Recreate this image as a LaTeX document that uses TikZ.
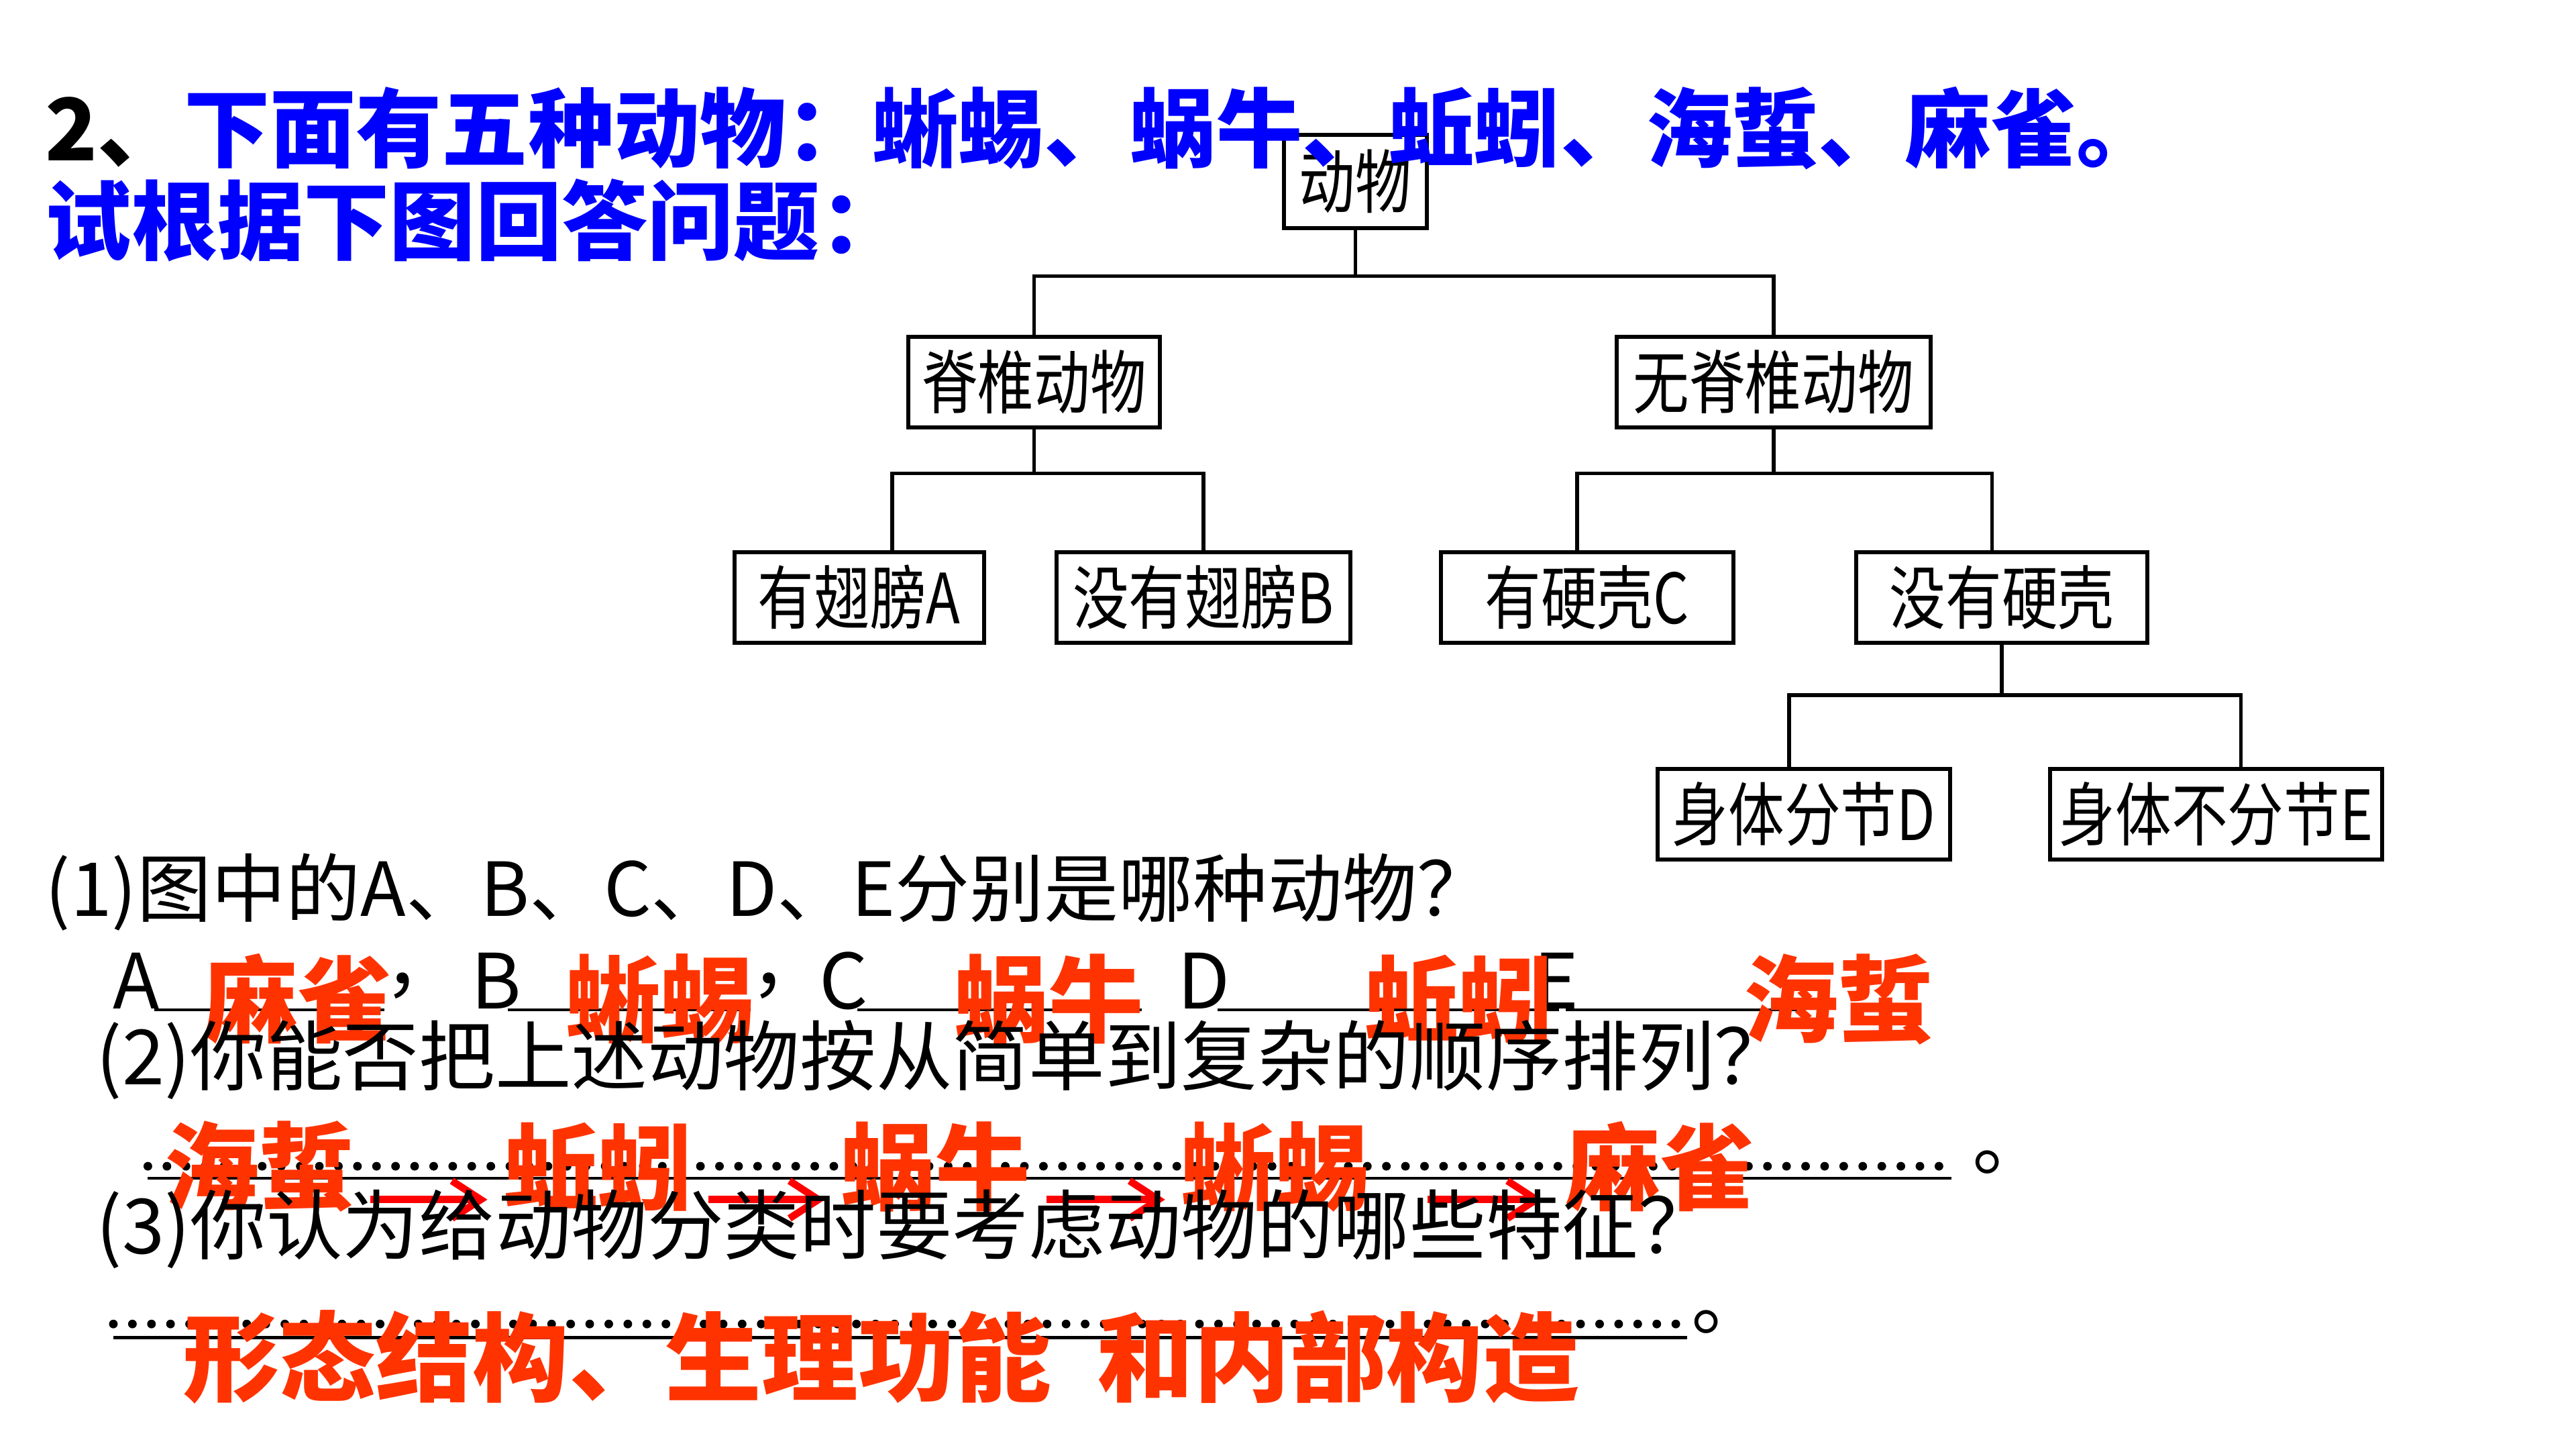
\documentclass[tikz,border=0pt]{standalone}
\usepackage{fontspec}
\setmainfont{Noto Sans CJK SC}
\newfontfamily\boxfont[FakeStretch=0.81]{Noto Sans CJK SC}
\usetikzlibrary{arrows.meta}
\definecolor{qblue}{RGB}{0,0,255}
\definecolor{ansred}{RGB}{255,51,0}
\definecolor{arrred}{RGB}{255,0,0}

\begin{document}
\begin{tikzpicture}[x=1cm,y=-1cm]
	\tikzset{box/.style = {shape=rectangle, draw, line width=0.7pt, inner sep=0pt, minimum height=0.55cm, minimum width=#1, font=\boxfont\fontsize{12pt}{12pt}\selectfont}}
	\tikzset{branch/.style = {line width=0.65pt}}
	\tikzset{ask/.style = {anchor=west, inner sep=0pt, font=\fontsize{13.2pt}{14pt}\selectfont}}
	\tikzset{answer/.style = {inner sep=0pt, text=ansred, font=\bfseries\fontsize{16.4pt}{17pt}\selectfont}}
	\tikzset{seqarrow/.style = {draw=arrred, line width=1.25pt, -{Straight Barb[length=5pt,width=6.5pt]}}}
	\tikzset{dotline/.style = {line width=1.5pt, line cap=round, dash pattern=on 0pt off 3.3pt}}
	\tikzset{blank/.style = {line width=0.5pt}}
	\useasboundingbox[fill=white] (0,0) rectangle (15.68,8.82);

	% tree
	\node[box=0.87cm, minimum height=0.57cm] (root) at (8.25,1.105) {动物};
	\node[box=1.53cm] (vert) at (6.295,2.325) {脊椎动物};
	\node[box=1.91cm] (invert) at (10.795,2.325) {无脊椎动物};
	\node[box=1.52cm] (wing) at (5.23,3.635) {有翅膀A};
	\node[box=1.79cm] (nowing) at (7.325,3.635) {没有翅膀B};
	\node[box=1.78cm] (shell) at (9.66,3.635) {有硬壳C};
	\node[box=1.77cm] (noshell) at (12.185,3.635) {没有硬壳};
	\node[box=1.78cm] (seg) at (10.98,4.955) {身体分节D};
	\node[box=2.02cm] (noseg) at (13.49,4.955) {身体不分节E};

	\coordinate (b1) at (8.23,1.68);
	\coordinate (b2) at (6.23,2.88);
	\coordinate (b3) at (10.76,2.88);
	\coordinate (b4) at (12.2,4.23);
	\draw[branch] (root.south) -- (root.south |- b1);
	\draw[branch] (vert.north) |- (b1) -| (invert.north);
	\draw[branch] (vert.south) -- (vert.south |- b2);
	\draw[branch] ([xshift=0.2cm]wing.north) |- (b2) -| (nowing.north);
	\draw[branch] (invert.south) -- (invert.south |- b3);
	\draw[branch] ([xshift=-0.06cm]shell.north) |- (b3) -| ([xshift=-0.06cm]noshell.north);
	\draw[branch] (noshell.south) -- (noshell.south |- b4);
	\draw[branch] ([xshift=-0.09cm]seg.north) |- (b4) -| ([xshift=0.15cm]noseg.north);

	% heading
	\node[anchor=west, inner sep=0pt, text=qblue, font=\bfseries\fontsize{14.9pt}{15pt}\selectfont] (head1) at (0.27,0.78) {\textcolor{black}{2、}下面有五种动物：蜥蜴、蜗牛、蚯蚓、海蜇、麻雀。};
	\node[anchor=west, inner sep=0pt, text=qblue, font=\bfseries\fontsize{14.9pt}{15pt}\selectfont] (head2) at (0.27,1.34) {试根据下图回答问题：};

	% question 1
	\node[ask, font=\fontsize{12.9pt}{14pt}\selectfont] (q1) at (0.27,5.43) {(1)图中的A、B、C、D、E分别是哪种动物？};
	\node[ask] (la) at (0.68,5.97) {A};
	\node[ask] (lb) at (2.86,5.97) {B};
	\node[ask] (lc) at (4.98,5.97) {C};
	\node[ask] (ld) at (7.16,5.97) {D};
	\node[ask] (le) at (9.33,5.97) {E};
	\node[ask] (ca) at (2.33,6.0) {，};
	\node[ask] (cb) at (4.56,6.0) {，};
	\draw[blank] (0.94,6.145) -- (2.34,6.145);
	\draw[blank] (3.09,6.145) -- (4.57,6.145);
	\draw[blank] (5.22,6.145) -- (6.95,6.145);
	\draw[blank] (7.41,6.145) -- (9.49,6.145);
	\draw[blank] (9.53,6.145) -- (10.94,6.145);
	\node[answer] (aa) at (1.81,6.08) {麻雀};
	\node[answer] (ab) at (4.02,6.08) {蜥蜴};
	\node[answer] (ac) at (6.385,6.08) {蜗牛};
	\node[answer] (ad) at (8.88,6.08) {蚯蚓};
	\node[answer] (ae) at (11.19,6.08) {海蜇};

	% question 2
	\node[ask] (q2) at (0.58,6.45) {(2)你能否把上述动物按从简单到复杂的顺序排列？};
	\draw[dotline] (0.90,7.097) -- (11.88,7.097);
	\draw[blank] (0.90,7.17) -- (11.88,7.17);
	\node[ask, anchor=base west] (stop2) at (12.0,7.115) {。};
	\node[answer] (s1) at (1.58,7.10) {海蜇};
	\node[answer] (s2) at (3.64,7.10) {蚯蚓};
	\node[answer] (s3) at (5.695,7.10) {蜗牛};
	\node[answer] (s4) at (7.765,7.10) {蜥蜴};
	\node[answer] (s5) at (10.105,7.10) {麻雀};
	\foreach \a/\b in {s1/s2,s2/s3,s3/s4}
		\draw[seqarrow, shorten <=0.09cm, shorten >=0.09cm] ([yshift=-0.2cm]\a.east) -- ([yshift=-0.2cm]\b.west);
	\draw[seqarrow, shorten <=0.34cm, shorten >=0.13cm] ([yshift=-0.2cm]s4.east) -- ([yshift=-0.2cm]s5.west);

	% question 3
	\node[ask] (q3) at (0.58,7.48) {(3)你认为给动物分类时要考虑动物的哪些特征？};
	\draw[dotline] (0.69,8.057) -- (10.27,8.057);
	\draw[blank] (0.69,8.14) -- (10.27,8.14);
	\node[ask, anchor=base west] (stop3) at (10.29,8.085) {。};
	\node[answer, font=\bfseries\fontsize{16.7pt}{17pt}\selectfont] (feat) at (5.365,8.26) {形态结构、生理功能\hspace{0.48em}和内部构造};
\end{tikzpicture}
\end{document}
